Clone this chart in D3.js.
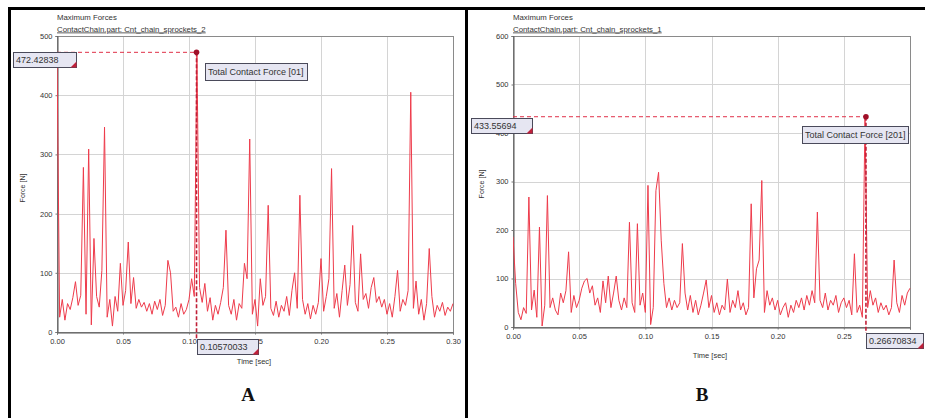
<!DOCTYPE html>
<html><head><meta charset="utf-8">
<script src="https://cdn.jsdelivr.net/npm/d3@7"></script>
<style>
body{margin:0;background:#fff}
svg{display:block}
text{font-family:"Liberation Sans",Arial,sans-serif;fill:#333}
</style>
</head><body>
<svg id="c" width="925" height="418"></svg>
<script>
// ---------- data ----------
const timeStep = 0.002; // sec between samples
const forceA = [470,25,55,20,48,38,58,85,45,62,278,30,309,12,158,60,42,104,346,25,
  55,10,60,35,116,45,70,152,48,92,40,55,42,50,35,48,30,52,38,55,
  28,45,121,100,35,42,25,48,30,38,55,90,60,472.43,75,50,82,35,58,20,
  45,30,50,75,172,45,30,55,20,48,40,116,90,326,30,55,10,90,45,60,
  214,40,28,52,25,45,35,60,28,70,100,40,231,55,30,48,22,45,30,50,
  124,35,60,90,276,40,65,25,70,113,45,80,180,50,35,132,55,65,40,75,
  92,50,60,42,55,30,48,25,60,104,35,55,45,70,405,40,86,30,55,20,
  48,141,60,25,45,35,50,28,42,35,48];
const forceB = [186,90,30,15,40,28,268,35,76,20,206,2,45,271,40,60,35,25,70,50,
  75,155,30,65,40,55,80,95,100,70,85,45,60,30,95,50,105,40,70,105,
  55,35,60,40,216,50,30,213,45,70,30,292,5,40,281,319,179,90,40,60,
  35,55,40,50,172,70,35,65,30,55,25,45,70,97,40,65,30,50,25,45,
  35,99,30,55,40,75,35,50,25,40,254,60,120,138,302,30,75,45,60,35,
  55,25,40,50,20,45,30,55,40,60,35,65,45,75,50,237,55,40,70,35,
  55,45,65,30,50,60,40,55,25,151,30,45,20,433.56,40,75,45,60,30,50,
  35,45,25,40,138,50,30,65,45,70,80];
const xTicks = [0, 0.05, 0.10, 0.15, 0.20, 0.25, 0.30];
const xTickLabelsA = ["0.00","0.05","0.10","0.15","0.20","0.25","0.30"];
const xTickLabelsB = ["0.00","0.05","0.10","0.15","0.20","0.25",""];
const yTicksA = [0,100,200,300,400,500];
const yTicksB = [0,100,200,300,400,500,600];
const plotTitles = ["Maximum Forces","Maximum Forces"];
const plotSubtitles = ["ContactChain.part: Cnt_chain_sprockets_2","ContactChain.part: Cnt_chain_sprockets_1"];
const seriesNames = ["Total Contact Force [01]","Total Contact Force [201]"];
const peakTimes = [0.10570033, 0.26670834];
const peakValues = [472.42838, 433.55694];
const peakTimeLabels = ["0.10570033","0.26670834"];
const peakValueLabels = ["472.42838","433.55694"];
const panelLetters = ["A","B"];
const xAxisTitle = "Time [sec]";
const yAxisTitle = "Force [N]";

// ---------- drawing ----------
const svg = d3.select("#c");
const lineColor = "#ee3b4b";

function box(g, x, y, w, h, txt, fs, tri){
  g.append("rect").attr("x",x+0.5).attr("y",y+0.5).attr("width",w).attr("height",h)
    .attr("fill","#e6e6f2").attr("stroke","#4a4a5a").attr("stroke-width",1);
  g.append("text").attr("x",x+3).attr("y",y+h/2+fs*0.36).attr("font-size",fs)
    .attr("fill","#223").text(txt);
  if(tri){
    g.append("path").attr("d",`M${x+w+0.5},${y+h-5.5}L${x+w+0.5},${y+h+0.5}L${x+w-5.5},${y+h+0.5}Z`)
      .attr("fill","#c0203a");
  }
}

function panel(cfg){
  const g = svg.append("g");
  const x = d3.scaleLinear().domain([0,0.30]).range([cfg.left,cfg.right]);
  const y = d3.scaleLinear().domain([0,cfg.yMax]).range([cfg.bottom,cfg.top]);
  // grid
  g.selectAll(".gx").data(xTicks.slice(1,-1)).join("line")
    .attr("x1",d=>Math.round(x(d))+0.5).attr("x2",d=>Math.round(x(d))+0.5)
    .attr("y1",cfg.top).attr("y2",cfg.bottom).attr("stroke","#d4d4d4");
  g.selectAll(".gy").data(cfg.yTicks.slice(1,-1)).join("line")
    .attr("y1",d=>Math.round(y(d))+0.5).attr("y2",d=>Math.round(y(d))+0.5)
    .attr("x1",cfg.left).attr("x2",cfg.right).attr("stroke","#d4d4d4");
  // frame
  g.append("rect").attr("x",cfg.left+0.5).attr("y",cfg.top+0.5)
    .attr("width",cfg.right-cfg.left).attr("height",cfg.bottom-cfg.top)
    .attr("fill","none").attr("stroke","#8a8a8a");
  // axes via d3
  const xa = d3.axisBottom(x).tickValues(xTicks).tickSize(2)
    .tickFormat((d,i)=>cfg.xLabels[i]);
  const gx = g.append("g").attr("transform",`translate(0,${cfg.bottom+0.5})`).call(xa);
  gx.select(".domain").attr("stroke","#555");
  gx.selectAll("text").attr("font-size",7.5).attr("fill","#333").attr("dy","0.9em")
    .attr("font-family","Liberation Sans, Arial, sans-serif");
  gx.selectAll(".tick line").attr("stroke","#777");
  const ya = d3.axisLeft(y).tickValues(cfg.yTicks).tickSize(2).tickFormat(d=>d);
  const gy = g.append("g").attr("transform",`translate(${cfg.left+0.5},0)`).call(ya);
  gy.select(".domain").attr("stroke","#555");
  gy.selectAll("text").attr("font-size",7.5).attr("fill","#333")
    .attr("font-family","Liberation Sans, Arial, sans-serif");
  gy.selectAll(".tick line").attr("stroke","#777");
  // titles
  g.append("text").attr("x",cfg.left).attr("y",20).attr("font-size",7.8).text(cfg.title);
  g.append("text").attr("x",cfg.left).attr("y",31.5).attr("font-size",7.8)
    .attr("text-decoration","underline").text(cfg.subtitle);
  // axis titles
  g.append("text").attr("transform",`translate(${cfg.yTitleX},${cfg.yTitleY}) rotate(-90)`)
    .attr("text-anchor","middle").attr("font-size",7).text(yAxisTitle);
  // data
  const line = d3.line().x((d,i)=>x(i*timeStep)).y(d=>y(d));
  const clipId = "clip"+cfg.letter;
  g.append("clipPath").attr("id",clipId).append("rect")
    .attr("x",cfg.left).attr("y",cfg.top-10).attr("width",cfg.right-cfg.left+1).attr("height",cfg.bottom-cfg.top+10);
  g.append("path").datum(cfg.data).attr("d",line).attr("fill","none")
    .attr("stroke",lineColor).attr("stroke-width",1).attr("stroke-linejoin","round")
    .attr("clip-path",`url(#${clipId})`);
  // peak marker
  const px = x(cfg.peakT), py = y(cfg.peakV);
  g.append("line").attr("x1",cfg.left).attr("x2",px).attr("y1",py).attr("y2",py)
    .attr("stroke","#e03048").attr("stroke-dasharray","4,3");
  g.append("line").attr("x1",px).attr("x2",px).attr("y1",py).attr("y2",cfg.bottom+cfg.timeBoxDy)
    .attr("stroke","#c02038").attr("stroke-width",1.6).attr("stroke-dasharray","4,2");
  g.append("circle").attr("cx",px).attr("cy",py).attr("r",2.8).attr("fill","#a01028");
  // boxes
  box(g, cfg.valBoxX, Math.round(py)+cfg.valBoxDy, cfg.valBoxW, 15, cfg.peakVLabel, 9, true);
  box(g, Math.round(px), cfg.bottom+cfg.timeBoxDy, cfg.timeBoxW, 15, cfg.peakTLabel, 9, true);
  box(g, cfg.legX(px), Math.round(py)+cfg.legDy, cfg.legW, 17, cfg.series, 9, false);
  // x title
  g.append("text").attr("x",cfg.xTitleX).attr("y",cfg.xTitleY).attr("text-anchor","middle")
    .attr("font-size",7.5).text(xAxisTitle);
  // letter
  g.append("text").attr("x",cfg.letterX).attr("y",401).attr("text-anchor","middle")
    .attr("font-size",19).attr("font-weight","bold")
    .style("font-family","'Liberation Serif','Times New Roman',serif").style("fill","#111")
    .text(cfg.letter);
}

panel({letter:panelLetters[0], left:57, right:453, top:36, bottom:332, yMax:500,
  yTicks:yTicksA, xLabels:xTickLabelsA, data:forceA, title:plotTitles[0], subtitle:plotSubtitles[0],
  series:seriesNames[0], peakT:peakTimes[0], peakV:peakValues[0],
  peakTLabel:peakTimeLabels[0], peakVLabel:peakValueLabels[0],
  valBoxX:13, valBoxDy:0, valBoxW:63, timeBoxDy:7, timeBoxW:61,
  legX:px=>Math.round(px)+8, legDy:11, legW:102,
  yTitleX:25, yTitleY:188, xTitleX:254, xTitleY:364, letterX:248});
panel({letter:panelLetters[1], left:513, right:910, top:36, bottom:327, yMax:600,
  yTicks:yTicksB, xLabels:xTickLabelsB, data:forceB, title:plotTitles[1], subtitle:plotSubtitles[1],
  series:seriesNames[1], peakT:peakTimes[1], peakV:peakValues[1],
  peakTLabel:peakTimeLabels[1], peakVLabel:peakValueLabels[1],
  valBoxX:471, valBoxDy:1, valBoxW:61, timeBoxDy:6, timeBoxW:57,
  legX:px=>802, legDy:9, legW:106,
  yTitleX:484, yTitleY:184, xTitleX:710, xTitleY:358, letterX:702});

// black frame
svg.append("rect").attr("x",8).attr("y",7).attr("width",917).attr("height",3).attr("fill","#000");
svg.append("rect").attr("x",8).attr("y",7).attr("width",3).attr("height",411).attr("fill","#000");
svg.append("rect").attr("x",465).attr("y",7).attr("width",3).attr("height",411).attr("fill","#000");
</script>
</body></html>
